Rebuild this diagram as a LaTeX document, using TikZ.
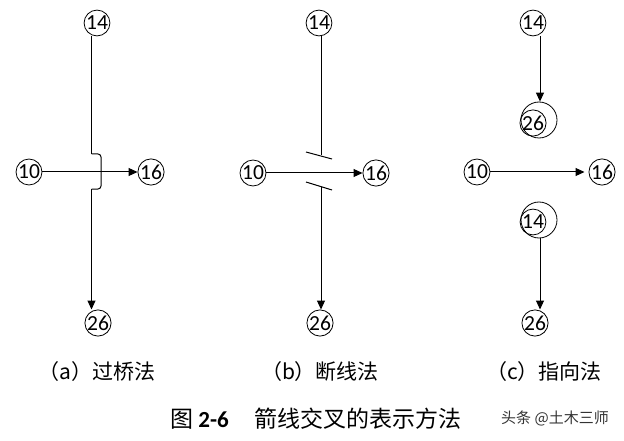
\documentclass[tikz,border=0pt]{standalone}
\usepackage{fontspec}
\setmainfont{Carlito}
\newfontfamily\cjk{Noto Sans CJK SC}
\usetikzlibrary{arrows.meta}
\begin{document}
\begin{tikzpicture}[x=1pt,y=-1pt,
  num/.style={circle,draw,line width=0.8pt,inner sep=0pt,minimum size=22pt,font=\fontsize{21.5}{21.5}\selectfont},
  ring/.style={circle,draw,line width=0.8pt,inner sep=0pt,minimum size=36pt},
  arr/.style={line width=1pt,-{Triangle[length=9pt,width=8pt]}},
  ln/.style={line width=1pt},
  lab/.style={font=\cjk\fontsize{21}{21}\selectfont},
  ]
\useasboundingbox (0,0) rectangle (624,441);
% ---------- (a) ----------
\node[num] (a14) at (97,23) {14};
\node[num] (a10) at (29,172) {10};
\node[num] (a16) at (151,172) {16};
\node[num] (a26) at (98,323) {26};
\coordinate (abt) at (91.5,154);
\coordinate (abb) at (91.5,189);
\draw[ln] (a14.south -| abt) -- (abt);
\draw[ln,rounded corners=3pt] (abt) -- (101,154) -- (101,189) -- (abb);
\draw[arr] (abb) -- (a26.north -| abb);
\draw[arr] (a10) -- (a16);
% ---------- (b) ----------
\node[num] (b14) at (319,23) {14};
\node[num] (b10) at (253,173) {10};
\node[num] (b16) at (376,173) {16};
\node[num] (b26) at (320,323) {26};
\coordinate (bt) at (321.5,155);
\coordinate (bb) at (321,187);
\draw[ln] (b14.south -| bt) -- (bt);
\draw[ln] (306,152) -- (332,159);
\draw[ln] (306,182) -- (332,190);
\draw[arr] (bb) -- (b26.north -| bb);
\draw[arr] (b10) -- (b16);
% ---------- (c) ----------
\node[num] (c14) at (533,23) {14};
\node[num] (c26i) at (533,123) {26};
\node[ring] (c26o) at (539,120) {};
\node[num] (c10) at (477,172) {10};
\node[num] (c16) at (602,172) {16};
\node[num] (c14i) at (533,222) {14};
\node[ring] (c14o) at (539,220) {};
\node[num] (c26) at (535,323) {26};
\coordinate (cx) at (540,0);
\draw[arr] (c14.south -| cx) -- (c26o.north -| cx);
\draw[arr] (c10) -- ([xshift=-4pt]c16.west);
\draw[arr] (c14o.south -| cx) -- (c26.north -| cx);
% ---------- labels ----------
\node[lab] (la) at (97,372) {（a）过桥法};
\node[lab] (lb) at (320,372) {（b）断线法};
\node[lab] (lc) at (544,372) {（c）指向法};
\node[font=\cjk\fontsize{23}{23}\selectfont] (cap) at (316,419) {图 {\fontspec{Carlito}\bfseries 2-6}\hspace{26pt}箭线交叉的表示方法};
\node[font=\cjk\fontsize{15}{15}\selectfont,text=black!80] (wm) at (555,418) {头条 @土木三师};
\end{tikzpicture}
\end{document}
